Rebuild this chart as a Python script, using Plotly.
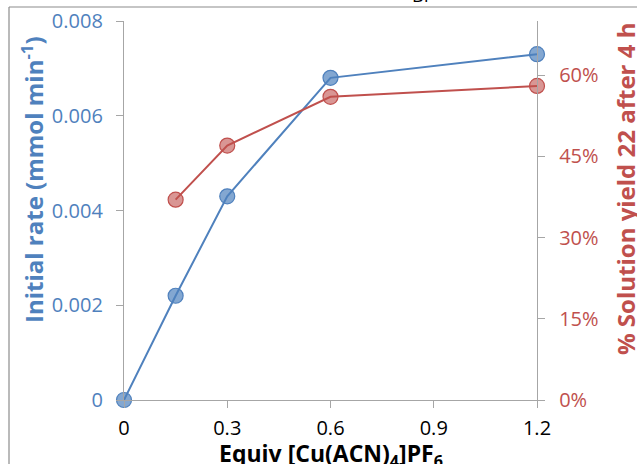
import plotly.graph_objects as go

equiv = [0, 0.15, 0.3, 0.6, 1.2]
initial_rate = [0.0, 0.0022, 0.0043, 0.0068, 0.0073]
yield_equiv = [0.15, 0.3, 0.6, 1.2]
solution_yield = [0.37, 0.47, 0.56, 0.58]

x_ticks = [0, 0.3, 0.6, 0.9, 1.2]
x_ticklabels = ["0", "0.3", "0.6", "0.9", "1.2"]
left_ticks = [0, 0.002, 0.004, 0.006, 0.008]
left_ticklabels = ["0", "0.002", "0.004", "0.006", "0.008"]
right_ticks = [0, 0.15, 0.30, 0.45, 0.60]
right_ticklabels = ["0%", "15%", "30%", "45%", "60%"]

BLUE = "#4F81BD"
RED = "#C0504D"
AXIS = "#A6A6A6"
FONT = "Open Sans"

W, H = 637, 464
L, R, T, B = 124, 100, 21, 64
pw = W - L - R
ph = H - T - B


def px(xp):
    return (xp - L) / pw


def py(yp):
    return (H - B - yp) / ph


fig = go.Figure()
fig.add_trace(go.Scatter(
    x=equiv, y=initial_rate, mode="lines+markers", yaxis="y",
    line=dict(color=BLUE, width=2),
    marker=dict(size=15, color="rgba(79,129,189,0.70)", line=dict(color=BLUE, width=1.2)),
    showlegend=False, cliponaxis=False,
))
fig.add_trace(go.Scatter(
    x=yield_equiv, y=solution_yield, mode="lines+markers", yaxis="y2",
    line=dict(color=RED, width=2),
    marker=dict(size=15, color="rgba(192,80,77,0.60)", line=dict(color=RED, width=1.2)),
    showlegend=False, cliponaxis=False,
))

fig.update_layout(
    width=W, height=H,
    margin=dict(l=L, r=R, t=T, b=B, autoexpand=False),
    paper_bgcolor="white", plot_bgcolor="white",
    font=dict(family=FONT, color="black"),
    xaxis=dict(
        range=[0, 1.2], tickvals=x_ticks, ticktext=x_ticklabels, automargin=False,
        showgrid=False, zeroline=False, showline=True, linecolor=AXIS, linewidth=1.3,
        ticks="outside", ticklen=7, tickcolor=AXIS, ticklabelstandoff=3,
        tickfont=dict(size=20, color="black", family=FONT),
    ),
    yaxis=dict(
        range=[0, 0.008], tickvals=left_ticks, ticktext=left_ticklabels, automargin=False,
        showgrid=False, zeroline=False, showline=True, linecolor=AXIS, linewidth=1.3,
        ticks="outside", ticklen=7, tickcolor=AXIS, ticklabelstandoff=9,
        tickfont=dict(size=20, color=BLUE, family=FONT),
    ),
    yaxis2=dict(
        range=[0, 0.70], tickvals=right_ticks, ticktext=right_ticklabels,
        overlaying="y", side="right", anchor="x", automargin=False,
        showgrid=False, zeroline=False, showline=True, linecolor=AXIS, linewidth=1.3,
        ticks="outside", ticklen=7, tickcolor=AXIS, ticklabelstandoff=10,
        tickfont=dict(size=20, color=RED, family=FONT),
    ),
)

# axis titles (placed like the Excel original)
fig.add_annotation(xref="paper", yref="paper", x=px(331), y=py(435),
                   xanchor="center", yanchor="top",
                   text="<b>Equiv [Cu(ACN)<sub>4</sub>]PF<sub>6</sub></b>", showarrow=False,
                   font=dict(size=23, color="black", family=FONT))
fig.add_annotation(xref="paper", yref="paper", x=px(32), y=py(180),
                   xanchor="center", yanchor="middle", textangle=-90,
                   text="<b>Initial rate (mmol min<sup>-1</sup>)</b>", showarrow=False,
                   font=dict(size=24, color=BLUE, family=FONT))
fig.add_annotation(xref="paper", yref="paper", x=px(625), y=py(189),
                   xanchor="center", yanchor="middle", textangle=-90,
                   text="<b>% Solution yield 22 after 4 h</b>", showarrow=False,
                   font=dict(size=24, color=RED, family=FONT))

# chart-area border (Excel style), partially cropped
fig.add_shape(type="line", xref="paper", yref="paper", x0=px(9), x1=px(W + 5),
              y0=py(7), y1=py(7), line=dict(color="#8C8C8C", width=1.2))
fig.add_shape(type="line", xref="paper", yref="paper", x0=px(9), x1=px(9),
              y0=py(7), y1=py(H + 5), line=dict(color="#8C8C8C", width=1.2))

# fragment of text above the chart (cropped)
fig.add_annotation(xref="paper", yref="paper", x=px(422), y=py(9),
                   xanchor="center", yanchor="bottom",
                   text="BF", showarrow=False,
                   font=dict(size=18, color="black", family=FONT))

fig.write_html("out.html", config={"displayModeBar": False},
               post_script="document.body.style.margin='0px';")
